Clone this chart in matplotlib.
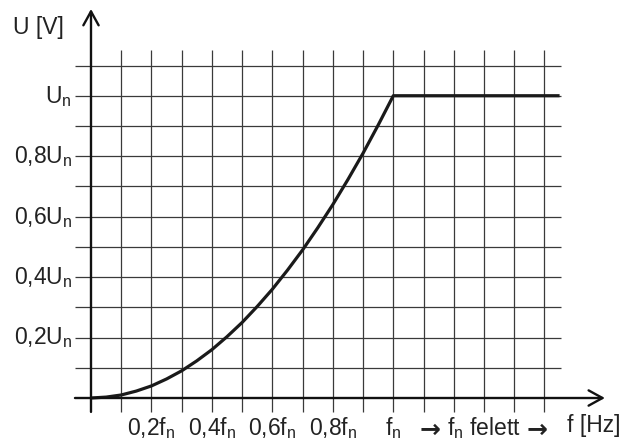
import numpy as np
import matplotlib
matplotlib.use("Agg")
import matplotlib.pyplot as plt

plt.rcParams['font.family'] = ['Liberation Sans', 'DejaVu Sans']
plt.rcParams['mathtext.fontset'] = 'custom'
plt.rcParams['mathtext.rm'] = 'Liberation Sans'
plt.rcParams['mathtext.it'] = 'Liberation Sans'

# U/f jelleggörbe (f/fn, U/Un)
f_gorbe = [0, 0.05, 0.1, 0.15, 0.2, 0.25, 0.3, 0.35, 0.4, 0.45, 0.5,
           0.55, 0.6, 0.65, 0.7, 0.75, 0.8, 0.85, 0.9, 0.95, 1.0, 1.55]
u_gorbe = [0, 0.003, 0.01, 0.023, 0.04, 0.063, 0.09, 0.123, 0.16, 0.203, 0.25,
           0.303, 0.36, 0.423, 0.49, 0.563, 0.64, 0.723, 0.81, 0.903, 1.0, 1.0]

x_racs = np.arange(1, 16) * 0.1
y_racs = np.arange(1, 12) * 0.1

y_cimkek = [0.2, 0.4, 0.6, 0.8, 1.0]
y_szoveg = [r'0,2U$_{\rm n}$', r'0,4U$_{\rm n}$', r'0,6U$_{\rm n}$',
            r'0,8U$_{\rm n}$', r'U$_{\rm n}$']
x_cimkek = [0.2, 0.4, 0.6, 0.8, 1.0, 1.299]
x_szoveg = [r'0,2f$_{\rm n}$', r'0,4f$_{\rm n}$', r'0,6f$_{\rm n}$',
            r'0,8f$_{\rm n}$', r'f$_{\rm n}$', r'f$_{\rm n}$ felett']
nyil_x = [1.121, 1.477]   # a "felett" felirat két nyila

fig = plt.figure(figsize=(6.27, 4.39), dpi=100)
ax = fig.add_axes([0, 0, 1, 1])
ax.set_xlim(-0.301, 1.773)
ax.set_ylim(-0.1323, 1.320)
ax.axis('off')

# rács
ax.vlines(x_racs, -0.046, 1.151, color='#3a3a3a', lw=0.9)
ax.hlines(y_racs, -0.053, 1.554, color='#3a3a3a', lw=0.9)

# tengelyek
nyil = dict(arrowstyle='->,head_length=1.0,head_width=0.55', lw=1.7,
            color='#111111', mutation_scale=10, shrinkA=0, shrinkB=0)
ax.annotate('', xy=(1.70, 0), xytext=(-0.053, 0), arrowprops=nyil)
ax.annotate('', xy=(0, 1.287), xytext=(0, -0.046), arrowprops=nyil)

# görbe
ax.plot(f_gorbe, u_gorbe, color='#1a1a1a', lw=2.3, solid_capstyle='butt')

fs = 16.5
for y, s in zip(y_cimkek, y_szoveg):
    ax.text(-0.063, y - 0.02, s, ha='right', va='baseline', fontsize=fs, color='#222222')
for x, s in zip(x_cimkek, x_szoveg):
    ax.text(x, -0.119, s, ha='center', va='baseline', fontsize=fs, color='#222222')
for x in nyil_x:
    ax.text(x, -0.1025, '→', ha='center', va='center', fontsize=18,
            family='DejaVu Sans', weight='bold', color='#222222')

ax.text(-0.258, 1.207, 'U [V]', ha='left', va='baseline', fontsize=fs, color='#222222')
ax.text(1.575, -0.109, 'f [Hz]', ha='left', va='baseline', fontsize=fs, color='#222222')

fig.savefig('out.png', dpi=100)
